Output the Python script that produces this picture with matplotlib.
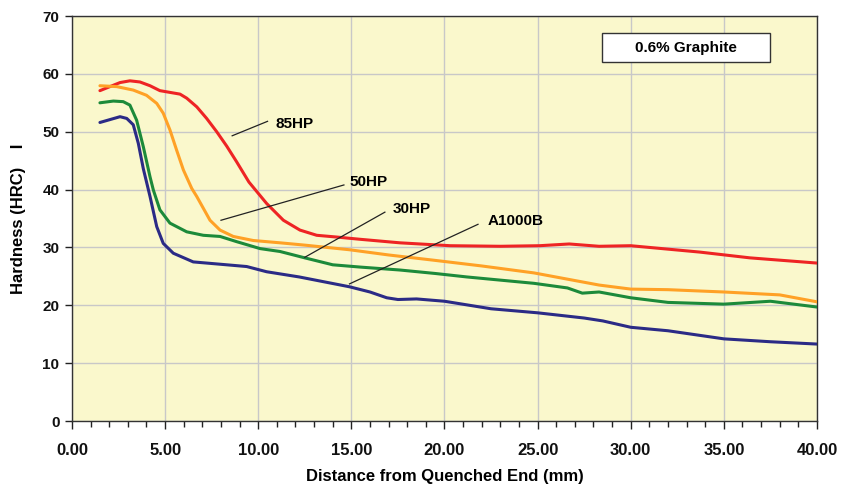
import matplotlib
matplotlib.use('Agg')
import matplotlib.pyplot as plt
from matplotlib.patches import Rectangle
from matplotlib.ticker import MultipleLocator, FormatStrFormatter

plt.rcParams['font.family'] = ['Liberation Sans', 'DejaVu Sans']
plt.rcParams['font.weight'] = 'bold'

# 85HP
x_85 = [1.50, 2.04, 2.58, 3.11, 3.65, 4.19, 4.72, 5.26, 5.80, 6.16, 6.70, 7.23, 7.77, 8.31, 8.84,
        9.50, 10.45, 11.35, 12.24, 13.14, 14.2, 15.5, 17.6, 20.3, 23.0, 25.1, 26.7, 28.3, 30.0,
        33.7, 36.4, 40.0]
y_85 = [57.1, 57.8, 58.5, 58.8, 58.6, 57.95, 57.1, 56.8, 56.5, 55.8, 54.3, 52.3, 50.0, 47.5, 44.8,
        41.3, 37.6, 34.7, 33.0, 32.1, 31.8, 31.4, 30.8, 30.3, 30.2, 30.3, 30.6, 30.2, 30.3,
        29.2, 28.2, 27.3]
# 50HP
x_50 = [1.50, 2.40, 3.29, 4.00, 4.55, 4.90, 5.26, 5.62, 5.98, 6.43, 6.70, 7.41, 7.95, 8.66, 9.73,
        11.17, 12.5, 14.9, 17.0, 19.4, 22.0, 24.8, 28.3, 30.0, 32.0, 35.0, 38.0, 40.0]
y_50 = [57.95, 57.8, 57.2, 56.3, 54.9, 53.2, 50.3, 46.8, 43.4, 40.2, 38.8, 34.7, 33.0, 31.9, 31.2,
        30.8, 30.4, 29.6, 28.7, 27.8, 26.8, 25.6, 23.5, 22.8, 22.7, 22.3, 21.8, 20.6]
# 30HP
x_30 = [1.50, 2.22, 2.75, 3.11, 3.47, 3.83, 4.19, 4.37, 4.72, 5.26, 6.16, 7.05, 7.95, 8.84, 10.1,
        11.17, 12.5, 14.0, 15.5, 17.6, 19.5, 21.2, 24.8, 26.6, 27.4, 28.3, 30.0, 32.0, 35.0,
        37.5, 40.0]
y_30 = [55.0, 55.3, 55.2, 54.6, 52.0, 47.4, 42.2, 39.9, 36.5, 34.2, 32.7, 32.1, 31.9, 31.0, 29.8,
        29.3, 28.2, 27.0, 26.6, 26.1, 25.5, 24.9, 23.8, 23.0, 22.1, 22.3, 21.3, 20.5, 20.2,
        20.7, 19.7]
# A1000B
x_a = [1.50, 2.04, 2.58, 2.94, 3.29, 3.56, 3.83, 4.19, 4.55, 4.90, 5.44, 6.51, 7.95, 9.38, 10.45,
       12.2, 14.9, 16.0, 16.9, 17.5, 18.5, 20.0, 22.5, 25.0, 27.5, 28.5, 30.0, 32.0, 35.0, 37.5, 40.0]
y_a = [51.6, 52.1, 52.6, 52.3, 51.2, 48.0, 43.6, 38.8, 33.6, 30.7, 29.0, 27.5, 27.1, 26.7, 25.8,
       24.9, 23.2, 22.3, 21.3, 21.0, 21.1, 20.7, 19.4, 18.7, 17.8, 17.3, 16.2, 15.6, 14.2, 13.7, 13.3]

series = [('85HP', x_85, y_85, '#EE2424'),
          ('50HP', x_50, y_50, '#FFA126'),
          ('30HP', x_30, y_30, '#1C8A3A'),
          ('A1000B', x_a, y_a, '#2B2B86')]

# label text position and leader line (start on curve, end near text)
labels = {'85HP': ((10.9, 51.3), (8.6, 49.3), (10.5, 51.8)),
          '50HP': ((14.9, 41.3), (8.0, 34.7), (14.6, 40.8)),
          '30HP': ((17.2, 36.6), (12.5, 28.3), (16.8, 36.1)),
          'A1000B': ((22.3, 34.6), (14.9, 23.7), (21.8, 34.0))}

fig = plt.figure(figsize=(8.42, 4.9), dpi=100)
ax = fig.add_axes([0.0855, 0.1408, 0.8848, 0.8265])
ax.set_facecolor('#FAF8CC')

for name, xs, ys, c in series:
    ax.plot(xs, ys, color=c, lw=2.2, solid_capstyle='round', solid_joinstyle='round', zorder=3)

for name, (tpos, p0, p1) in labels.items():
    ax.plot([p0[0], p1[0]], [p0[1], p1[1]], color='#222222', lw=0.9, zorder=4)
    ax.text(tpos[0], tpos[1], name, fontsize=11, fontweight='bold', ha='left', va='center', zorder=5)

# title box
ax.add_patch(Rectangle((28.46, 62.05), 9.02, 5.0, fc='white', ec='#333333', lw=1.0, zorder=5))
ax.text(32.97, 64.55, '0.6% Graphite', fontsize=11, fontweight='bold', ha='center', va='center', zorder=6)

ax.set_xlim(0, 40)
ax.set_ylim(0, 70)
ax.xaxis.set_major_locator(MultipleLocator(5))
ax.xaxis.set_minor_locator(MultipleLocator(1))
ax.yaxis.set_major_locator(MultipleLocator(10))
ax.xaxis.set_major_formatter(FormatStrFormatter('%.2f'))
ax.grid(True, which='major', color='#C8C8C8', lw=1.0, zorder=0)
ax.set_axisbelow(True)
ax.tick_params(axis='both', which='both', direction='out', width=1, colors='#222222',
               labelcolor='#111111')
ax.tick_params(axis='x', which='major', length=6, pad=10, labelsize=12)
ax.tick_params(axis='x', which='minor', length=4)
ax.tick_params(axis='y', which='major', length=5, pad=4, labelsize=11)
for s in ax.spines.values():
    s.set_color('#333333')
    s.set_linewidth(1.0)

ax.set_xlabel('Distance from Quenched End (mm)', fontsize=12, fontweight='bold', labelpad=8)
ax.set_ylabel('Hardness (HRC)    I', fontsize=12, fontweight='bold', labelpad=12)

fig.savefig('out.png', dpi=100)
